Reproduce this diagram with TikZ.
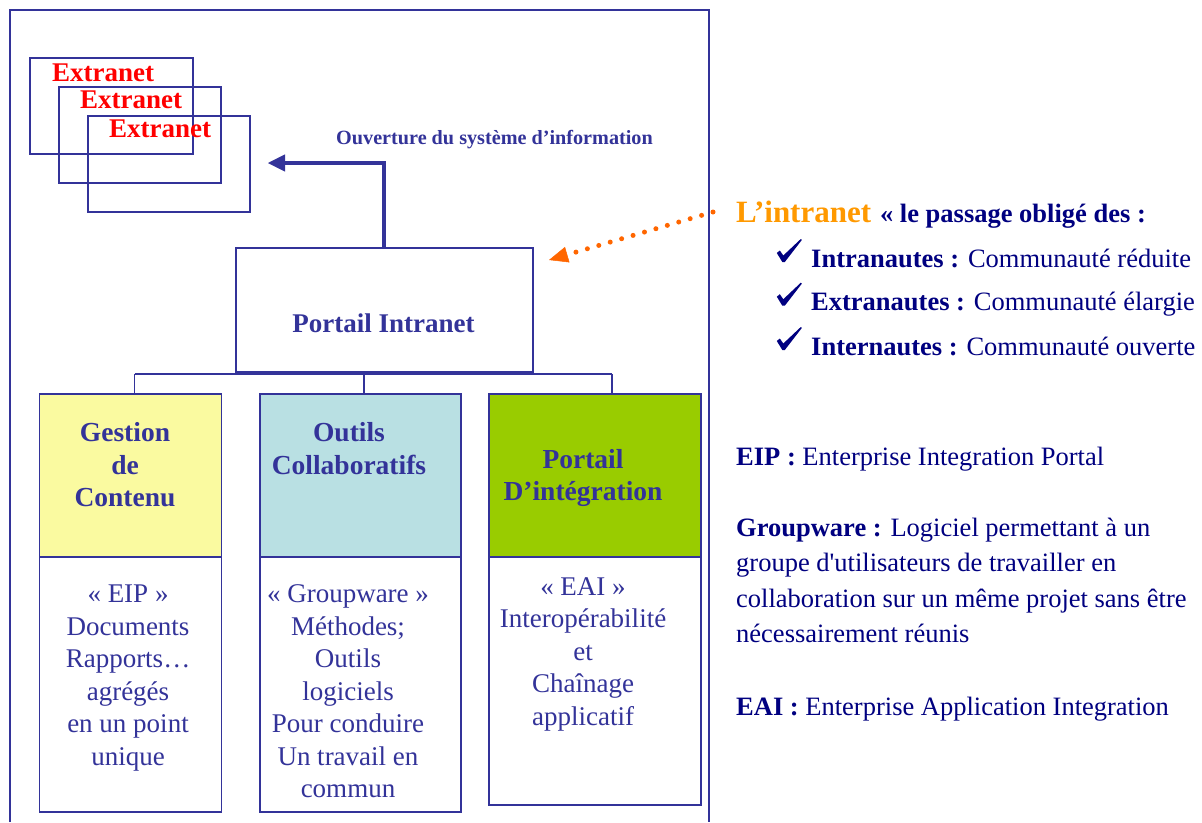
\documentclass[tikz,border=0pt]{standalone}
\usepackage{graphicx}
\usepackage{fontspec}
\setmainfont{Liberation Serif}
\newfontfamily\rawserif[Ligatures=TeXOff]{Liberation Serif}
\usetikzlibrary{arrows.meta}
\definecolor{fblue}{RGB}{51,51,153}
\definecolor{navyc}{RGB}{0,0,128}
\definecolor{orgarrow}{RGB}{255,102,0}
\definecolor{orgtext}{RGB}{255,153,0}
\definecolor{yel}{RGB}{250,250,160}
\definecolor{lblue}{RGB}{185,224,227}
\definecolor{grn}{RGB}{153,204,0}
\newcommand{\stk}[1]{\begin{tabular}[t]{@{}c@{}}#1\end{tabular}}
\newcommand{\stkl}[1]{\begin{tabular}[t]{@{}l@{}}#1\end{tabular}}
\newcommand{\tickmark}[1]{\fill[navyc,shift={#1}] (-6.5,-9) -- (-3.5,-11.5) -- (0,-6.5) -- (17.5,-23) -- (18.5,-22) -- (1.5,0) -- (-1,0) -- cycle;}
\begin{document}
\begin{tikzpicture}[x=1pt,y=-1pt,
  frameline/.style={draw=fblue,line width=1.6pt},
  box/.style={draw=fblue,line width=1.5pt,inner sep=0pt,anchor=north west},
  btxt/.style={inner sep=0pt,anchor=base,text=fblue},
  hdrfont/.style={font=\bfseries\fontsize{27.5}{32.4}\selectfont},
  lowfont/.style={font=\fontsize{27}{32.5}\selectfont},
  rtxt/.style={inner sep=0pt,anchor=base west,text=navyc,font=\fontsize{26.5}{30}\selectfont},
  exttxt/.style={inner sep=0pt,anchor=base west,text=red,font=\bfseries\fontsize{27}{30}\selectfont}]
\useasboundingbox[fill=white] (0,0) rectangle (1202,822);

% outer frame
\draw[frameline] (10,822) -- (10,10) -- (709,10) -- (709,822);

% extranet boxes
\node[box,minimum width=163pt,minimum height=96pt] (ext1) at (29,57) {};
\node[box,minimum width=162pt,minimum height=96pt] (ext2) at (58,86) {};
\node[box,minimum width=162pt,minimum height=96pt] (ext3) at (87,115) {};
\node[exttxt] (ext1t) at (52,81) {Extranet};
\node[exttxt] (ext2t) at (80,108.7) {Extranet};
\node[exttxt] (ext3t) at (109,137) {Extranet};

% portail intranet
\node[box,minimum width=297pt,minimum height=124pt] (portail) at (235,247) {};
\node[btxt,font=\bfseries\fontsize{27}{30}\selectfont] (portailt) at (383.5,332) {Portail Intranet};

% ouverture arrow
\coordinate (ouvtip) at (268,163);
\draw[fblue,line width=4pt,line join=miter,-{Triangle[length=17pt,width=17pt,line width=0.5pt]}]
  (portail.north) -- (portail.north |- ouvtip) -- (ouvtip);
\node[inner sep=0pt,anchor=base west,text=fblue,font=\bfseries\fontsize{20.2}{24}\selectfont] (ouvt) at (336,144) {Ouverture du système d’information};

% header boxes
\node[box,fill=yel,minimum width=182pt,minimum height=163pt] (g1) at (38.7,393) {};
\node[box,fill=lblue,minimum width=201pt,minimum height=163pt] (g2) at (259,393) {};
\node[box,fill=grn,minimum width=212pt,minimum height=163pt] (g3) at (488,393) {};
\node[box,minimum width=182pt,minimum height=255pt] (l1) at (38.7,556) {};
\node[box,minimum width=201pt,minimum height=255pt] (l2) at (259,556) {};
\node[box,minimum width=212pt,minimum height=248pt] (l3) at (488,556) {};

% bus
\coordinate (bus1) at (134.5,374);
\coordinate (bus2) at (364,374);
\coordinate (bus3) at (612,374);
\draw[fblue,line width=1.4pt] (bus1) -- (bus3);
\draw[fblue,line width=1.4pt] (bus1) -- (bus1 |- g1.north);
\draw[fblue,line width=1.4pt] (bus2) -- (bus2 |- g2.north);
\draw[fblue,line width=1.4pt] (bus3) -- (bus3 |- g3.north);

% header texts
\node[btxt,hdrfont] (g1t) at (125,441.7) {\stk{Gestion\\de\\Contenu}};
\node[btxt,hdrfont] (g2t) at (349,441.7) {\stk{Outils\\Collaboratifs}};
\node[btxt,hdrfont] (g3t) at (583,468) {\stk{Portail\\D’intégration}};

% lower texts
\node[btxt,lowfont] (l1t) at (128,602.7) {\stk{« EIP »\\Documents\\Rapports…\\agrégés\\en un point\\unique}};
\node[btxt,lowfont] (l2t) at (348,602.7) {\stk{« Groupware »\\Méthodes;\\Outils\\logiciels\\Pour conduire\\Un travail en\\commun}};
\node[btxt,lowfont] (l3t) at (583,595) {\stk{« EAI »\\Interopérabilité\\et\\Chaînage\\applicatif}};

% right side
\node[rtxt,font=\bfseries\fontsize{26.5}{30}\selectfont] (intra) at (736,222.7)
  {{\color{orgtext}\fontsize{31}{36}\selectfont L’intranet}\hspace{9pt}« le passage obligé des :};
\tickmark{(783.3,262)}
\tickmark{(783.3,305.7)}
\tickmark{(783.3,350)}
\node[rtxt] (r1) at (811,267) {\textbf{Intranautes :} Communauté réduite};
\node[rtxt] (r2) at (811,310.7) {\textbf{Extranautes :} Communauté élargie};
\node[rtxt] (r3) at (811,355) {\textbf{Internautes :} Communauté ouverte};

\node[rtxt] (d1) at (736,465) {\textbf{EIP :} Enterprise Integration Portal};
\node[rtxt,font=\fontsize{26.5}{35.6}\selectfont] (d2) at (736,536) {\stkl{\textbf{Groupware :} Logiciel permettant à un\\groupe d{\rawserif '}utilisateurs de travailler en\\collaboration sur un même projet sans être\\nécessairement réunis}};
\node[rtxt] (d3) at (736,715) {\textbf{EAI :} Enterprise Application Integration};

% orange dotted arrow
\coordinate (ostart) at (713,212);
\coordinate (otip) at (549,260);
\draw[orgarrow,line width=5pt,line cap=round,dash pattern=on 0pt off 11.9pt,
  -{Triangle[length=19pt,width=16pt,line width=0.5pt]}] (ostart) -- (otip);
\end{tikzpicture}
\end{document}
